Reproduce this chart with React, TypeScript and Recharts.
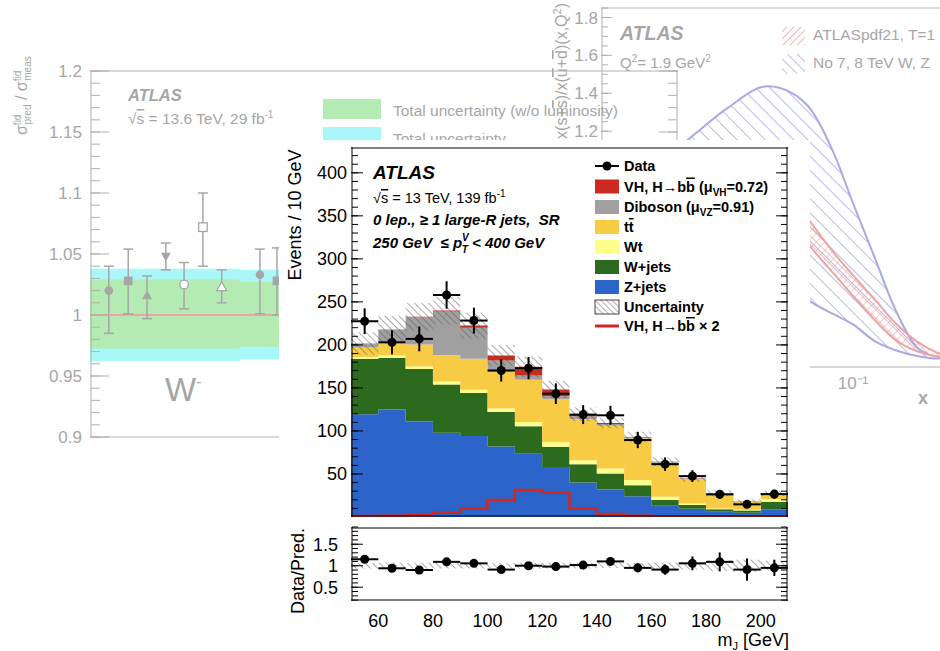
import React from 'react';
import {
  ComposedChart,
  Area,
  Line,
  Scatter,
  XAxis,
  YAxis,
  ErrorBar,
  ReferenceLine,
} from 'recharts';

const FONT = '"Liberation Sans", Arial, Helvetica, sans-serif';

// ---------- main panel: m_J, 0 lepton, 250 GeV <= pTV < 400 GeV ----------
const binEdges = [50, 60, 70, 80, 90, 100, 110, 120, 130, 140, 150, 160, 170, 180, 190, 200, 210];
const binCentres = [55, 65, 75, 85, 95, 105, 115, 125, 135, 145, 155, 165, 175, 185, 195, 205];
const zJets = [119.5, 125, 111, 98, 94, 82, 73.5, 58, 40, 32, 24, 13, 9.5, 6, 5, 9];
const wJets = [64.5, 60, 61, 56, 50, 40, 32, 23.5, 21.4, 18.6, 13, 6.7, 4.4, 2.9, 2.5, 8.8];
const wt = [2, 2.7, 3, 3.6, 3.8, 4, 4.9, 5.8, 4.6, 5.8, 5.9, 3.8, 1.9, 1.1, 1, 2.7];
const ttbar = [11, 15.3, 25.5, 30.4, 36.2, 42.4, 49.1, 49.4, 48, 49.6, 48.6, 39.5, 28.2, 16.8, 8.8, 6.3];
const diboson = [4.2, 14.5, 31.5, 50.7, 35.8, 13.6, 5, 3.5, 3, 2, 1, 1, 0.7, 0.6, 0.5, 0.6];
const vhbb = [0.4, 0.5, 0.8, 1.3, 2.7, 5.8, 10, 8.1, 2.3, 1.2, 0.5, 0.3, 0.2, 0.1, 0.1, 0.1];
const vhbbX2 = [1.2, 1.5, 2, 5, 10, 19.7, 31.3, 28.2, 10, 3.5, 1.5, 1, 0.8, 0.6, 0.5, 0.5];
const bkgUnc = [13, 16, 16, 16, 15, 12, 12, 10, 8, 6, 6, 5, 4, 3.5, 2.5, 3];
const dataEvents = [227.5, 203, 207, 258, 228.3, 170.3, 173, 143.3, 119, 118.2, 89.5, 61.4, 47.5, 26.3, 14.7, 26.6];
const dataErr = [15, 14, 14.4, 16, 15, 13, 13, 12, 11, 11, 9.5, 7.8, 6.9, 5.1, 3.8, 5.2];
const ratio = [1.15, 0.94, 0.9, 1.09, 1.055, 0.91, 1.0, 0.98, 1.015, 1.1, 0.95, 0.91, 1.055, 1.09, 0.91, 0.95];
const ratioErr = [0.07, 0.065, 0.065, 0.065, 0.065, 0.07, 0.075, 0.08, 0.09, 0.1, 0.1, 0.12, 0.16, 0.22, 0.26, 0.19];

const mainYLabels = [50, 100, 150, 200, 250, 300, 350, 400];
const ratioYLabels = [0.5, 1, 1.5];
const massLabels = [60, 80, 100, 120, 140, 160, 180, 200];

// ---------- background left: W- cross-section ratios ----------
const bandEdges = [0, 25.5, 50];
const totUncLow = [0.962, 0.9635];
const totUncHigh = [1.038, 1.037];
const noLumiLow = [0.9725, 0.974];
const noLumiHigh = [1.029, 1.027];
const wmPos = [3.2, 6.5, 9.7, 12.9, 16, 19.2, 22.4, 28.9, 31.8];
const wmRatio = [1.02, 1.028, 1.016, 1.048, 1.025, 1.072, 1.023, 1.033, 1.028];
const wmLow = [0.985, 1.001, 0.997, 1.037, 1.005, 1.04, 1.01, 1.001, 1.0];
const wmHigh = [1.04, 1.054, 1.032, 1.059, 1.043, 1.1, 1.037, 1.054, 1.055];
const wmMarker = ['circle', 'square', 'tri', 'triDown', 'circleOpen', 'squareOpen', 'triOpen', 'circle', 'square'];
const wmYLabels = [0.9, 0.95, 1, 1.05, 1.1, 1.15, 1.2];

// ---------- background right: strange-sea ratio ----------
const pdfX = [0.002, 0.003, 0.005, 0.01, 0.021, 0.032, 0.046, 0.072, 0.1, 0.15, 0.215, 0.33, 0.47, 0.7, 1];
const noWzHigh = [0.95, 1.05, 1.16, 1.32, 1.437, 1.405, 1.316, 1.068, 0.82, 0.526, 0.263, 0.053, 0.01, 0, 0];
const noWzLow = [0.55, 0.55, 0.55, 0.52, 0.45, 0.38, 0.3, 0.23, 0.18, 0.09, 0.045, 0.012, 0, 0, 0];
const pdf21High = [null, null, null, null, 0.98, 0.86, 0.72, 0.55, 0.44, 0.31, 0.19, 0.085, 0.03, 0.005, 0];
const pdf21Low = [null, null, null, null, 0.85, 0.74, 0.59, 0.44, 0.33, 0.2, 0.1, 0.035, 0.01, 0, 0];
const pdfYLabels = [0, 0.2, 0.4, 0.6, 0.8, 1, 1.2, 1.4, 1.6, 1.8];
const pdfXLabels = [0.001, 0.01, 0.1];
const pdfXMajor = [0.001, 0.01, 0.1, 1];

const steps = (a: number, b: number, s: number) => {
  const out: number[] = [];
  for (let v = a; v <= b + s / 1000; v += s) out.push(+v.toFixed(4));
  return out;
};
const logMinor = [1, 2, 3, 4, 5, 6, 7, 8, 9].flatMap((m) => [m * 0.001, m * 0.01, m * 0.1]).concat([1]);

const mainRows = binEdges.map((x, i) => {
  const k = Math.min(i, zJets.length - 1);
  const total = zJets[k] + wJets[k] + wt[k] + ttbar[k] + diboson[k] + vhbb[k];
  return {
    x,
    z: zJets[k],
    w: wJets[k],
    wt: wt[k],
    tt: ttbar[k],
    vv: diboson[k],
    vh: vhbb[k],
    unc: [total - bkgUnc[k], total + bkgUnc[k]],
    runc: [1 - bkgUnc[k] / total, 1 + bkgUnc[k] / total],
    sig2: vhbbX2[k],
  };
});
const dataRows = binCentres.map((x, i) => ({ x, y: dataEvents[i], ex: 5, ey: dataErr[i] }));
const ratioRows = binCentres.map((x, i) => ({ x, y: ratio[i], ex: 5, ey: ratioErr[i] }));

const bandRows = bandEdges.map((x, i) => {
  const k = Math.min(i, totUncLow.length - 1);
  return { x, tot: [totUncLow[k], totUncHigh[k]], nolumi: [noLumiLow[k], noLumiHigh[k]] };
});
const wmRows = wmPos.map((x, i) => ({
  x,
  y: wmRatio[i],
  err: [wmRatio[i] - wmLow[i], wmHigh[i] - wmRatio[i]],
  m: wmMarker[i],
}));

const pdfRows = pdfX.map((x, i) => ({
  x,
  noWz: [noWzLow[i], noWzHigh[i]],
  pdf21: pdf21High[i] == null ? null : [pdf21Low[i], pdf21High[i]],
}));

type Side = 'top' | 'bottom' | 'left' | 'right';

const NoLabel = () => <g />;

// inward ATLAS-style tick marks: a mirrored axis that only draws tick lines
function tickAxis(side: Side, id: string, domain: [number, number], ticks: number[], size: number, color: string, line: boolean, log = false) {
  const shared: any = {
    mirror: true,
    type: 'number',
    domain,
    allowDataOverflow: true,
    ticks,
    interval: 0,
    tick: NoLabel,
    tickSize: size,
    tickLine: size > 0 ? { stroke: color, strokeWidth: 1 } : false,
    axisLine: line ? { stroke: color, strokeWidth: 1 } : false,
  };
  if (log) shared.scale = 'log';
  if (side === 'top' || side === 'bottom') {
    return <XAxis key={id} xAxisId={id} orientation={side} height={1} {...shared} />;
  }
  return <YAxis key={id} yAxisId={id} orientation={side} width={1} {...shared} />;
}

const C = {
  vh: '#cc2a1e',
  vv: '#a0a0a0',
  tt: '#f8cb45',
  wt: '#fefe8a',
  w: '#2c6a1d',
  z: '#2d64c9',
  sig: '#d1291e',
};

function MainPanel() {
  const xd: [number, number] = [50, 210];
  const yd: [number, number] = [0, 430];
  return (
    <ComposedChart width={531} height={380} data={mainRows} margin={{ top: 7, right: 22, bottom: 3, left: 0 }}>
      <defs>
        <pattern id="hatchMain" patternUnits="userSpaceOnUse" width="5" height="5" patternTransform="rotate(-45)">
          <line x1="0" y1="0" x2="0" y2="5" stroke="#555" strokeWidth="1" />
        </pattern>
      </defs>
      <XAxis dataKey="x" type="number" domain={xd} allowDataOverflow hide />
      <YAxis
        type="number"
        domain={yd}
        allowDataOverflow
        ticks={mainYLabels}
        interval={0}
        width={72}
        tickLine={false}
        axisLine={false}
        tickSize={0}
        tickMargin={4}
        tick={{ fontSize: 18, fill: '#000', fontFamily: FONT }}
      />
      <Area type="stepAfter" dataKey="z" stackId="s" fill={C.z} fillOpacity={1} stroke="none" isAnimationActive={false} />
      <Area type="stepAfter" dataKey="w" stackId="s" fill={C.w} fillOpacity={1} stroke="none" isAnimationActive={false} />
      <Area type="stepAfter" dataKey="wt" stackId="s" fill={C.wt} fillOpacity={1} stroke="none" isAnimationActive={false} />
      <Area type="stepAfter" dataKey="tt" stackId="s" fill={C.tt} fillOpacity={1} stroke="none" isAnimationActive={false} />
      <Area type="stepAfter" dataKey="vv" stackId="s" fill={C.vv} fillOpacity={1} stroke="none" isAnimationActive={false} />
      <Area type="stepAfter" dataKey="vh" stackId="s" fill={C.vh} fillOpacity={1} stroke="none" isAnimationActive={false} />
      <Area type="stepAfter" dataKey="unc" fill="url(#hatchMain)" fillOpacity={1} stroke="none" isAnimationActive={false} />
      <Line type="stepAfter" dataKey="sig2" stroke={C.sig} strokeWidth={2.5} dot={false} isAnimationActive={false} />
      <Scatter data={dataRows} dataKey="y" fill="#000" isAnimationActive={false}>
        <ErrorBar dataKey="ex" direction="x" width={0} stroke="#000" strokeWidth={2} />
        <ErrorBar dataKey="ey" direction="y" width={0} stroke="#000" strokeWidth={2} />
      </Scatter>
      {tickAxis('bottom', 'bm', xd, steps(50, 210, 5), 6, '#000', true)}
      {tickAxis('bottom', 'bM', xd, massLabels, 12, '#000', false)}
      {tickAxis('top', 'tm', xd, steps(50, 210, 5), 6, '#000', true)}
      {tickAxis('top', 'tM', xd, massLabels, 12, '#000', false)}
      {tickAxis('left', 'lm', yd, steps(10, 420, 10), 6, '#000', true)}
      {tickAxis('left', 'lM', yd, mainYLabels, 12, '#000', false)}
      {tickAxis('right', 'rm', yd, steps(10, 420, 10), 6, '#000', true)}
      {tickAxis('right', 'rM', yd, mainYLabels, 12, '#000', false)}
    </ComposedChart>
  );
}

function RatioPanel() {
  const xd: [number, number] = [50, 210];
  const yd: [number, number] = [0.18, 1.9];
  return (
    <ComposedChart width={531} height={131} data={mainRows} margin={{ top: 7, right: 22, bottom: 0, left: 0 }}>
      <defs>
        <pattern id="hatchRatio" patternUnits="userSpaceOnUse" width="5" height="5" patternTransform="rotate(-45)">
          <line x1="0" y1="0" x2="0" y2="5" stroke="#555" strokeWidth="1" />
        </pattern>
      </defs>
      <XAxis
        dataKey="x"
        type="number"
        domain={xd}
        allowDataOverflow
        ticks={massLabels}
        interval={0}
        height={50}
        tickLine={false}
        axisLine={false}
        tickSize={0}
        tickMargin={13}
        tick={{ fontSize: 18, fill: '#000', fontFamily: FONT }}
      />
      <YAxis
        type="number"
        domain={yd}
        allowDataOverflow
        ticks={ratioYLabels}
        interval={0}
        width={72}
        tickLine={false}
        axisLine={false}
        tickSize={0}
        tickMargin={13}
        tick={{ fontSize: 18, fill: '#000', fontFamily: FONT }}
      />
      <Area type="stepAfter" dataKey="runc" fill="url(#hatchRatio)" fillOpacity={1} stroke="none" isAnimationActive={false} />
      <Scatter data={ratioRows} dataKey="y" fill="#000" isAnimationActive={false}>
        <ErrorBar dataKey="ex" direction="x" width={0} stroke="#000" strokeWidth={2} />
        <ErrorBar dataKey="ey" direction="y" width={0} stroke="#000" strokeWidth={2} />
      </Scatter>
      {tickAxis('bottom', 'bm', xd, steps(50, 210, 5), 5, '#000', true)}
      {tickAxis('bottom', 'bM', xd, massLabels, 10, '#000', false)}
      {tickAxis('top', 'tm', xd, steps(50, 210, 5), 5, '#000', true)}
      {tickAxis('top', 'tM', xd, massLabels, 10, '#000', false)}
      {tickAxis('left', 'lm', yd, steps(0.2, 1.9, 0.1), 6, '#000', true)}
      {tickAxis('left', 'lM', yd, ratioYLabels, 12, '#000', false)}
      {tickAxis('right', 'rm', yd, steps(0.2, 1.9, 0.1), 6, '#000', true)}
      {tickAxis('right', 'rM', yd, ratioYLabels, 12, '#000', false)}
    </ComposedChart>
  );
}

const GREY = '#a6a6a6';

const WmMarker = (p: any) => {
  const { cx, cy, payload } = p;
  const r = 4.3;
  const open = String(payload.m).endsWith('Open');
  const fill = open ? '#fff' : GREY;
  const sw = open ? 1.3 : 0;
  const kind = String(payload.m).replace('Open', '');
  if (kind === 'square') {
    return <rect x={cx - r} y={cy - r} width={2 * r} height={2 * r} fill={fill} stroke={GREY} strokeWidth={sw} />;
  }
  if (kind === 'tri') {
    return <path d={`M${cx},${cy - r * 1.2}L${cx + r * 1.15},${cy + r * 0.85}L${cx - r * 1.15},${cy + r * 0.85}Z`} fill={fill} stroke={GREY} strokeWidth={sw} />;
  }
  if (kind === 'triDown') {
    return <path d={`M${cx},${cy + r * 1.2}L${cx + r * 1.15},${cy - r * 0.85}L${cx - r * 1.15},${cy - r * 0.85}Z`} fill={fill} stroke={GREY} strokeWidth={sw} />;
  }
  return <circle cx={cx} cy={cy} r={r} fill={fill} stroke={GREY} strokeWidth={sw} />;
};

function WMinusPanel() {
  const xd: [number, number] = [0, 100];
  const yd: [number, number] = [0.9, 1.2];
  return (
    <ComposedChart width={660} height={390} data={bandRows} margin={{ top: 11, right: 12, bottom: 13, left: 0 }}>
      <XAxis dataKey="x" type="number" domain={xd} allowDataOverflow hide />
      <YAxis
        type="number"
        domain={yd}
        allowDataOverflow
        ticks={wmYLabels}
        interval={0}
        width={60}
        tickLine={false}
        axisLine={false}
        tickSize={0}
        tickMargin={8}
        tickFormatter={(v: number) => String(+v.toFixed(2))}
        tick={{ fontSize: 17, fill: GREY, fontFamily: FONT }}
      />
      <Area type="stepAfter" dataKey="tot" fill="#aaf7fa" fillOpacity={1} stroke="none" isAnimationActive={false} />
      <Area type="stepAfter" dataKey="nolumi" fill="#b3ebb3" fillOpacity={1} stroke="none" isAnimationActive={false} />
      <ReferenceLine y={1} stroke="#f2a2a2" strokeWidth={2} />
      <Scatter data={wmRows} dataKey="y" shape={WmMarker} isAnimationActive={false}>
        <ErrorBar dataKey="err" direction="y" width={5} stroke={GREY} strokeWidth={1.5} />
      </Scatter>
      {tickAxis('left', 'lm', yd, steps(0.9, 1.2, 0.01), 9, '#b0b0b0', true)}
      {tickAxis('left', 'lM', yd, wmYLabels, 19, '#b0b0b0', false)}
      {tickAxis('right', 'rm', yd, steps(0.9, 1.2, 0.01), 9, '#b0b0b0', true)}
      {tickAxis('right', 'rM', yd, wmYLabels, 19, '#b0b0b0', false)}
      {tickAxis('top', 'tl', xd, [50], 0, '#b0b0b0', true)}
      {tickAxis('bottom', 'bl', xd, [50], 0, '#b0b0b0', true)}
    </ComposedChart>
  );
}

function StrangePanel() {
  const xd: [number, number] = [0.001, 1];
  const yd: [number, number] = [-0.05, 1.85];
  return (
    <ComposedChart width={460} height={420} data={pdfRows} margin={{ top: 8, right: 21, bottom: 0, left: 0 }}>
      <defs>
        <pattern id="hatchBlue" patternUnits="userSpaceOnUse" width="10" height="10" patternTransform="rotate(-45)">
          <line x1="0" y1="0" x2="0" y2="10" stroke="#a9a9e8" strokeWidth="1.6" />
        </pattern>
        <pattern id="hatchPink" patternUnits="userSpaceOnUse" width="6" height="6" patternTransform="rotate(-45)">
          <line x1="0" y1="0" x2="0" y2="6" stroke="#e8a6a6" strokeWidth="1.5" />
          <line x1="0" y1="0" x2="6" y2="0" stroke="#e8a6a6" strokeWidth="1" />
        </pattern>
      </defs>
      <XAxis
        dataKey="x"
        type="number"
        scale="log"
        domain={xd}
        allowDataOverflow
        ticks={pdfXLabels}
        interval={0}
        height={52}
        tickLine={false}
        axisLine={false}
        tickSize={0}
        tickMargin={9}
        tickFormatter={(v: number) => '10' + ['⁻³', '⁻²', '⁻¹'][Math.round(Math.log10(v)) + 3]}
        tick={{ fontSize: 17, fill: GREY, fontFamily: FONT }}
      />
      <YAxis
        type="number"
        domain={yd}
        allowDataOverflow
        ticks={pdfYLabels}
        interval={0}
        width={61}
        tickLine={false}
        axisLine={false}
        tickSize={0}
        tickMargin={3}
        tickFormatter={(v: number) => (v === 0 ? '0' : v.toFixed(1))}
        tick={{ fontSize: 17, fill: GREY, fontFamily: FONT }}
      />
      <Area type="monotone" dataKey="noWz" fill="url(#hatchBlue)" fillOpacity={1} stroke="#a9a9e8" strokeWidth={2} isAnimationActive={false} />
      <Area type="monotone" dataKey="pdf21" fill="url(#hatchPink)" fillOpacity={1} stroke="#e8a6a6" strokeWidth={2} isAnimationActive={false} />
      {tickAxis('bottom', 'bm', xd, logMinor, 6, '#b0b0b0', true, true)}
      {tickAxis('bottom', 'bM', xd, pdfXMajor, 12, '#b0b0b0', false, true)}
      {tickAxis('top', 'tl', xd, [0.1], 0, '#b0b0b0', true, true)}
      {tickAxis('left', 'lm', yd, steps(0, 1.85, 0.05), 6, '#b0b0b0', true)}
      {tickAxis('left', 'lM', yd, pdfYLabels, 11, '#b0b0b0', false)}
    </ComposedChart>
  );
}

const OL: React.CSSProperties = { position: 'absolute', left: 0, top: 0, pointerEvents: 'none' };
const ov = { textDecoration: 'overline' };

function StrangeOverlay() {
  return (
    <svg width={940} height={651} style={OL} fontFamily={FONT} fill={GREY}>
      <defs>
        <pattern id="legBlue" patternUnits="userSpaceOnUse" width="7" height="7" patternTransform="rotate(-45)">
          <line x1="0" y1="0" x2="0" y2="7" stroke="#a9a9e8" strokeWidth="1.6" />
        </pattern>
        <pattern id="legPink" patternUnits="userSpaceOnUse" width="5" height="5" patternTransform="rotate(45)">
          <line x1="0" y1="0" x2="0" y2="5" stroke="#e8a6a6" strokeWidth="1.6" />
        </pattern>
      </defs>
      <text transform="translate(567,3) rotate(-90)" textAnchor="end" fontSize={16}>
        x(s+<tspan style={ov}>s</tspan>)/x(<tspan style={ov}>u</tspan>+<tspan style={ov}>d</tspan>)(x,Q<tspan dy={-6} fontSize={11}>2</tspan><tspan dy={6}>)</tspan>
      </text>
      <text x={620} y={40} fontSize={19.5} fontWeight="bold" fontStyle="italic">ATLAS</text>
      <text x={620} y={68} fontSize={15}>
        Q<tspan dy={-6} fontSize={10}>2</tspan><tspan dy={6}>= 1.9 GeV</tspan><tspan dy={-6} fontSize={10}>2</tspan>
      </text>
      <rect x={782} y={27} width={23} height={18} fill="url(#legPink)" />
      <text x={813} y={40} fontSize={15.5}>ATLASpdf21, T=1</text>
      <rect x={782} y={54} width={23} height={20} fill="url(#legBlue)" />
      <text x={813} y={68} fontSize={15.5}>No 7, 8 TeV W, Z</text>
      <text x={918} y={404} fontSize={18} fontWeight="bold">x</text>
    </svg>
  );
}

function WMinusOverlay() {
  return (
    <svg width={940} height={651} style={OL} fontFamily={FONT} fill={GREY}>
      <text transform="translate(27,135) rotate(-90)" fontSize={16}>
        σ<tspan dy={-6} fontSize={10}>fid</tspan><tspan dx={-10} dy={10} fontSize={10}>pred</tspan>
        <tspan dy={-4}> / σ</tspan><tspan dy={-6} fontSize={10}>fid</tspan><tspan dx={-10} dy={10} fontSize={10}>meas</tspan>
      </text>
      <text x={128} y={101} fontSize={16.5} fontWeight="bold" fontStyle="italic">ATLAS</text>
      <text x={128} y={124} fontSize={15.5}>
        √<tspan style={ov}>s</tspan> = 13.6 TeV, 29 fb<tspan dy={-6} fontSize={10}>-1</tspan>
      </text>
      <text x={165} y={401} fontSize={33}>
        W<tspan dy={-14} fontSize={16}>-</tspan>
      </text>
      <rect x={323} y={99} width={58} height={20} fill="#b3ebb3" />
      <text x={393} y={116} fontSize={15.5}>Total uncertainty (w/o luminosity)</text>
      <rect x={323} y={127} width={58} height={20} fill="#aaf7fa" />
      <text x={393} y={144} fontSize={15.5}>Total uncertainty</text>
    </svg>
  );
}

function MainOverlay() {
  const rows = [166, 186.5, 207, 227, 247, 267, 287, 307, 326];
  const sx = 595;
  const sw = 24;
  const tx = 624;
  const box = (y: number, fill: string) => <rect x={sx} y={y - 7} width={sw} height={14} fill={fill} />;
  return (
    <svg width={940} height={651} style={OL} fontFamily={FONT} fill="#000">
      <defs>
        <pattern id="legHatch" patternUnits="userSpaceOnUse" width="4" height="4" patternTransform="rotate(-45)">
          <line x1="0" y1="0" x2="0" y2="4" stroke="#555" strokeWidth="0.9" />
        </pattern>
      </defs>
      <text x={373} y={179} fontSize={19} fontWeight="bold" fontStyle="italic">ATLAS</text>
      <text x={373} y={203} fontSize={14.5}>
        √<tspan style={ov}>s</tspan> = 13 TeV, 139 fb<tspan dy={-6} fontSize={10}>-1</tspan>
      </text>
      <text x={373} y={225} fontSize={15} fontWeight="bold" fontStyle="italic">{'0 lep., ≥ 1 large-R jets,\u00A0 SR'}</text>
      <text x={373} y={248} fontSize={15} fontWeight="bold" fontStyle="italic">
        {'250 GeV\u00A0 ≤ p'}<tspan dy={-7} fontSize={10}>V</tspan><tspan dx={-7} dy={12} fontSize={10}>T</tspan>
        <tspan dy={-5}>{'\u00A0< 400 GeV'}</tspan>
      </text>

      <line x1={sx} x2={sx + sw} y1={rows[0]} y2={rows[0]} stroke="#000" strokeWidth={2} />
      <circle cx={sx + sw / 2} cy={rows[0]} r={4.5} />
      {box(rows[1], C.vh)}
      {box(rows[2], C.vv)}
      {box(rows[3], C.tt)}
      {box(rows[4], C.wt)}
      {box(rows[5], C.w)}
      {box(rows[6], C.z)}
      <rect x={sx} y={rows[7] - 7} width={sw} height={14} fill="url(#legHatch)" stroke="#444" strokeWidth={1} />
      <line x1={sx} x2={sx + sw} y1={rows[8]} y2={rows[8]} stroke={C.sig} strokeWidth={3} />

      <g fontSize={14.5} fontWeight="bold">
        <text x={tx} y={rows[0] + 5}>Data</text>
        <text x={tx} y={rows[1] + 5}>
          VH, H→b<tspan style={ov}>b</tspan> (μ<tspan dy={4} fontSize={10}>VH</tspan><tspan dy={-4}>=0.72)</tspan>
        </text>
        <text x={tx} y={rows[2] + 5}>
          Diboson (μ<tspan dy={4} fontSize={10}>VZ</tspan><tspan dy={-4}>=0.91)</tspan>
        </text>
        <text x={tx} y={rows[3] + 5}>
          t<tspan style={ov}>t</tspan>
        </text>
        <text x={tx} y={rows[4] + 5}>Wt</text>
        <text x={tx} y={rows[5] + 5}>W+jets</text>
        <text x={tx} y={rows[6] + 5}>Z+jets</text>
        <text x={tx} y={rows[7] + 5}>Uncertainty</text>
        <text x={tx} y={rows[8] + 5}>
          VH, H→b<tspan style={ov}>b</tspan> × 2
        </text>
      </g>

      <text transform="translate(301,215) rotate(-90)" textAnchor="middle" fontSize={18}>Events / 10 GeV</text>
      <text transform="translate(304,571) rotate(-90)" textAnchor="middle" fontSize={18}>Data/Pred.</text>
      <text x={789} y={646} textAnchor="end" fontSize={18}>
        m<tspan dy={4} fontSize={11}>J</tspan><tspan dy={-4}> [GeV]</tspan>
      </text>
    </svg>
  );
}

export default function App() {
  return (
    <div
      style={{
        position: 'fixed',
        left: 0,
        top: 0,
        width: 940,
        height: 651,
        overflow: 'hidden',
        background: '#fff',
        fontFamily: FONT,
      }}
    >
      <div style={{ position: 'absolute', left: 540, top: 0 }}>
        <StrangePanel />
      </div>
      <StrangeOverlay />
      <div style={{ position: 'absolute', left: 30, top: 60 }}>
        <WMinusPanel />
      </div>
      <WMinusOverlay />
      <div style={{ position: 'absolute', left: 279, top: 140, width: 531, height: 511, background: '#fff' }}>
        <div style={{ position: 'absolute', left: 0, top: 0 }}>
          <MainPanel />
        </div>
        <div style={{ position: 'absolute', left: 0, top: 380 }}>
          <RatioPanel />
        </div>
      </div>
      <MainOverlay />
    </div>
  );
}
